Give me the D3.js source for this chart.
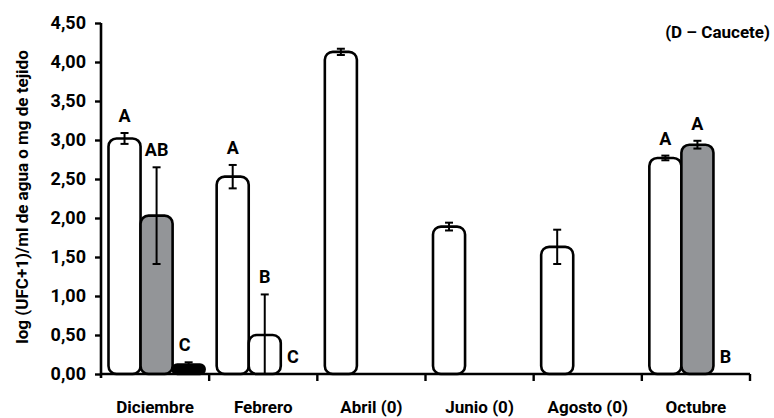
<!DOCTYPE html>
<html>
<head>
<meta charset="utf-8">
<script src="https://cdn.jsdelivr.net/npm/d3@7"></script>
<style>
  body { margin: 0; background: #fff; }
  text { font-family: Roboto, "Liberation Sans", sans-serif; font-weight: bold; fill: #000; }
</style>
</head>
<body>
<div id="chart"></div>
<script>
// data
const categories = ["Diciembre", "Febrero", "Abril (0)", "Junio (0)", "Agosto (0)", "Octubre"];
const yTicks = [0, 0.5, 1, 1.5, 2, 2.5, 3, 3.5, 4, 4.5];

const serie1 = [3.02, 2.53, 4.13, 1.89, 1.63, 2.77];
const error1 = [0.07, 0.15, 0.04, 0.05, 0.22, 0.03];
const letras1 = ["A", "A", "", "", "", "A"];

const serie2 = [2.03, 0.50, null, null, null, 2.94];
const error2 = [0.62, 0.52, null, null, null, 0.05];
const letras2 = ["AB", "B", "", "", "", "A"];

const serie3 = [0.12, 0, null, null, null, 0];
const error3 = [0.03, 0, null, null, null, 0];
const letras3 = ["C", "C", "", "", "", "B"];

// bar fills (second series is white in Febrero)
const fill1 = "#ffffff";
const fill2 = ["#939598", "#ffffff", "#939598", "#939598", "#939598", "#939598"];
const fill3 = "#000000";

const width = 774, height = 418;
const margin = {top: 23, right: 24, bottom: 44, left: 101};

const svg = d3.select("#chart").append("svg")
    .attr("width", width)
    .attr("height", height);

const x = d3.scaleBand()
    .domain(categories)
    .range([margin.left, width - margin.right])
    .padding(0);

const xs = d3.scaleBand()
    .domain([0, 1, 2])
    .range([7.5, x.bandwidth() - 4.5])
    .padding(0);

const y = d3.scaleLinear()
    .domain([0, 4.5])
    .range([height - margin.bottom, margin.top]);

const series = [
  {values: serie1, err: error1, labels: letras1, fill: i => fill1, dx: 0},
  {values: serie2, err: error2, labels: letras2, fill: i => fill2[i], dx: 0},
  {values: serie3, err: error3, labels: letras3, fill: i => fill3, dx: -4}
];

// bars
series.forEach(function(s, si) {
  const rows = categories.map((c, i) => ({cat: c, i: i, v: s.values[i], e: s.err[i], lab: s.labels[i]}));
  const g = svg.append("g");

  const bars = rows.filter(d => d.v !== null && d.v > 0);
  g.selectAll("rect").data(bars).enter().append("rect")
    .attr("x", d => x(d.cat) + xs(si))
    .attr("y", d => y(d.v))
    .attr("width", xs.bandwidth())
    .attr("height", d => y(0) - y(d.v))
    .attr("rx", d => Math.min(8, (y(0) - y(d.v)) / 2))
    .attr("fill", d => s.fill(d.i))
    .attr("stroke", "#000")
    .attr("stroke-width", 2.6);

  // error bars
  const eb = bars.filter(d => d.e > 0);
  const cx = d => x(d.cat) + xs(si) + xs.bandwidth() / 2;
  g.selectAll("line.err").data(eb).enter().append("line")
    .attr("x1", cx).attr("x2", cx)
    .attr("y1", d => y(d.v + d.e))
    .attr("y2", d => y(Math.max(0, d.v - d.e)))
    .attr("stroke", "#000").attr("stroke-width", 2);
  g.selectAll("line.capt").data(eb).enter().append("line")
    .attr("x1", d => cx(d) - 4).attr("x2", d => cx(d) + 4)
    .attr("y1", d => y(d.v + d.e)).attr("y2", d => y(d.v + d.e))
    .attr("stroke", "#000").attr("stroke-width", 2);
  g.selectAll("line.capb").data(eb.filter(d => d.v - d.e > 0)).enter().append("line")
    .attr("x1", d => cx(d) - 4).attr("x2", d => cx(d) + 4)
    .attr("y1", d => y(d.v - d.e)).attr("y2", d => y(d.v - d.e))
    .attr("stroke", "#000").attr("stroke-width", 2);

  // significance letters
  g.selectAll("text").data(rows.filter(d => d.lab)).enter().append("text")
    .attr("x", d => cx(d) + s.dx)
    .attr("y", d => y((d.v || 0) + (d.e || 0)) - 11)
    .attr("text-anchor", "middle")
    .style("font-size", "18px")
    .text(d => d.lab);
});

// y axis
const yAxis = svg.append("g")
    .attr("transform", "translate(" + margin.left + ",0)")
    .call(d3.axisLeft(y).tickValues(yTicks).tickSize(6).tickPadding(9)
      .tickFormat(d => d3.format(".2f")(d).replace(".", ",")));
yAxis.select(".domain").attr("stroke-width", 2.6).attr("d", "M0," + (y(0) + 4) + "V" + y(4.5));
yAxis.selectAll(".tick line").attr("stroke-width", 2.4);
yAxis.selectAll(".tick text").style("font-size", "18px").attr("font-family", null);

// x axis: ticks at category boundaries
const xAxis = svg.append("g")
    .attr("transform", "translate(0," + y(0) + ")");
xAxis.append("line")
    .attr("x1", margin.left).attr("x2", width - margin.right)
    .attr("stroke", "#000").attr("stroke-width", 2.6);
xAxis.selectAll("line.tk").data(categories.slice(1).concat(["end"])).enter().append("line")
    .attr("x1", d => d === "end" ? width - margin.right : x(d))
    .attr("x2", d => d === "end" ? width - margin.right : x(d))
    .attr("y1", 0).attr("y2", 7)
    .attr("stroke", "#000").attr("stroke-width", 2.4);
xAxis.selectAll("text").data(categories).enter().append("text")
    .attr("x", d => x(d) + x.bandwidth() / 2)
    .attr("y", 39)
    .attr("text-anchor", "middle")
    .style("font-size", "17px")
    .text(d => d);

// axis title
svg.append("text")
    .attr("transform", "translate(28," + 197 + ") rotate(-90)")
    .attr("text-anchor", "middle")
    .style("font-size", "17px")
    .text("log (UFC+1)/ml de agua o mg de tejido");

// panel label
svg.append("text")
    .attr("x", 770).attr("y", 38)
    .attr("text-anchor", "end")
    .style("font-size", "17px")
    .text("(D – Caucete)");
</script>
</body>
</html>
